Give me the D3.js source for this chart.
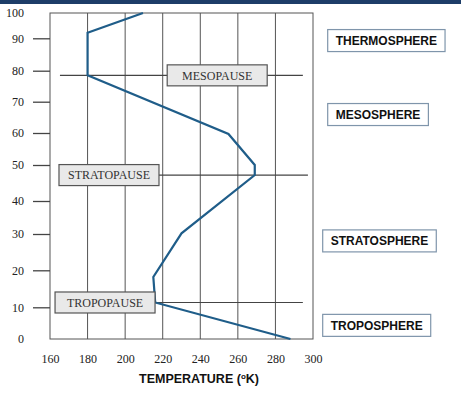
<!DOCTYPE html>
<html lang="en">
  <head>
    <meta charset="UTF-8" />
    <title>Atmosphere temperature profile</title>
    <script src="https://d3js.org/d3.v7.min.js"></script>
    <style>
      body { margin: 0; background: #fff; }
    </style>
  </head>
  <body>
    <div id="svgCanvas"></div>
    <script>
      // temperature profile (K) against altitude (km)
      var temperature = [288, 216, 215, 230, 269, 269, 255, 180, 180, 209.5];
      var altitude = [0, 11.3, 18.2, 30.2, 47.2, 50, 59.7, 78.5, 92.2, 100];

      var xTicks = [160, 180, 200, 220, 240, 260, 280, 300];
      var yTicks = [0, 10, 20, 30, 40, 50, 60, 70, 80, 90, 100];

      // the three pauses
      var pauseNames = ["TROPOPAUSE", "STRATOPAUSE", "MESOPAUSE"];
      var pauseAlt = [11.3, 47.2, 78.5];
      var pauseLabelTemp = [189.3, 191.4, 249];
      var pauseLineFrom = [162.7, 165.3, 165.3];
      var pauseLineTo = [294.6, 297.3, 294.6];

      // layer names on the right
      var layerNames = ["TROPOSPHERE", "STRATOSPHERE", "MESOSPHERE", "THERMOSPHERE"];
      var layerAlt = [4.3, 28.1, 65.9, 89.3];

      var width = 474,
        height = 394;

      var svg = d3
        .select("#svgCanvas")
        .append("svg")
        .attr("width", width)
        .attr("height", height);

      var x = d3.scaleLinear().domain([160, 300]).range([50, 313]);
      // the original axis is hand drawn, its ticks are not evenly spaced
      var yTickPos = [339, 307.3, 270.3, 234, 201, 165, 133, 101.7, 70.7, 38.3, 13];
      var y = d3.scaleLinear().domain(yTicks).range(yTickPos);

      // top banner strip
      svg
        .append("rect")
        .attr("x", 0)
        .attr("y", 0)
        .attr("width", 461)
        .attr("height", 4)
        .attr("fill", "#1d3d68");

      // vertical grid
      svg
        .selectAll("line.grid")
        .data(xTicks.slice(1, -1))
        .join("line")
        .attr("class", "grid")
        .attr("x1", d => x(d))
        .attr("x2", d => x(d))
        .attr("y1", y(100))
        .attr("y2", y(0))
        .attr("stroke", "#555")
        .attr("stroke-width", 1);

      // frame
      svg
        .append("rect")
        .attr("x", x(160))
        .attr("y", y(100))
        .attr("width", x(300) - x(160))
        .attr("height", y(0) - y(100))
        .attr("fill", "none")
        .attr("stroke", "#555")
        .attr("stroke-width", 1);

      // y axis
      var gY = svg
        .append("g")
        .attr("transform", "translate(" + x(160) + ",0)")
        .call(d3.axisLeft(y).tickValues(yTicks).tickSize(17).tickPadding(9).tickFormat(d3.format("d")));
      gY.select(".domain").remove();
      gY.selectAll(".tick line")
        .attr("stroke", "#444")
        .attr("stroke-width", 1.3)
        .attr("display", d => (d === 0 || d === 100 ? "none" : null));
      gY.selectAll(".tick text")
        .attr("font-family", "Liberation Serif, serif")
        .attr("font-size", 12)
        .attr("fill", "#222");

      // x axis
      var gX = svg
        .append("g")
        .attr("transform", "translate(0," + y(0) + ")")
        .call(d3.axisBottom(x).tickValues(xTicks).tickSize(0).tickPadding(15));
      gX.select(".domain").remove();
      gX.selectAll(".tick text")
        .attr("font-family", "Liberation Serif, serif")
        .attr("font-size", 12)
        .attr("fill", "#222");

      // axis title
      var title = svg
        .append("text")
        .attr("x", 199)
        .attr("y", 383)
        .attr("text-anchor", "middle")
        .attr("font-family", "Liberation Sans, Arial, sans-serif")
        .attr("font-weight", "bold")
        .attr("font-size", 12.5)
        .attr("fill", "#111");
      title.append("tspan").text("TEMPERATURE (");
      title.append("tspan").attr("font-size", 8).attr("dy", -4).text("o");
      title.append("tspan").attr("dy", 4).text("K)");

      // pause lines
      pauseNames.forEach(function (name, i) {
        svg
          .append("line")
          .attr("x1", x(pauseLineFrom[i]))
          .attr("x2", x(pauseLineTo[i]))
          .attr("y1", y(pauseAlt[i]))
          .attr("y2", y(pauseAlt[i]))
          .attr("stroke", "#444")
          .attr("stroke-width", 1.2);
      });

      // profile curve
      var line = d3
        .line()
        .x(d => x(d[0]))
        .y(d => y(d[1]));
      svg
        .append("path")
        .attr("d", line(d3.zip(temperature, altitude)))
        .attr("fill", "none")
        .attr("stroke", "#1f5d89")
        .attr("stroke-width", 2.2)
        .attr("stroke-linejoin", "miter");

      // pause labels
      pauseNames.forEach(function (name, i) {
        var g = svg.append("g");
        g.append("rect")
          .attr("x", x(pauseLabelTemp[i]) - 50)
          .attr("y", y(pauseAlt[i]) - 10.5)
          .attr("width", 100)
          .attr("height", 21)
          .attr("fill", "#e9e9e9")
          .attr("stroke", "#555")
          .attr("stroke-width", 1.2);
        g.append("text")
          .attr("x", x(pauseLabelTemp[i]))
          .attr("y", y(pauseAlt[i]))
          .attr("dy", "0.35em")
          .attr("text-anchor", "middle")
          .attr("font-family", "Liberation Serif, serif")
          .attr("font-size", 12)
          .attr("fill", "#333")
          .text(name);
      });

      // layer name boxes
      var layerLeft = [322.7, 322.7, 327.7, 327.7];
      layerNames.forEach(function (name, i) {
        var g = svg.append("g");
        var box = g.append("rect");
        var t = g
          .append("text")
          .attr("x", layerLeft[i] + 8)
          .attr("y", y(layerAlt[i]))
          .attr("dy", "0.36em")
          .attr("font-family", "Liberation Sans, Arial, sans-serif")
          .attr("font-weight", "bold")
          .attr("font-size", 12)
          .attr("fill", "#111")
          .text(name);
        var w = t.node().getComputedTextLength();
        box
          .attr("x", layerLeft[i])
          .attr("y", y(layerAlt[i]) - 11)
          .attr("width", w + 16)
          .attr("height", 22)
          .attr("fill", "#fff")
          .attr("stroke", "#7f95ab")
          .attr("stroke-width", 1.2);
      });
    </script>
  </body>
</html>
